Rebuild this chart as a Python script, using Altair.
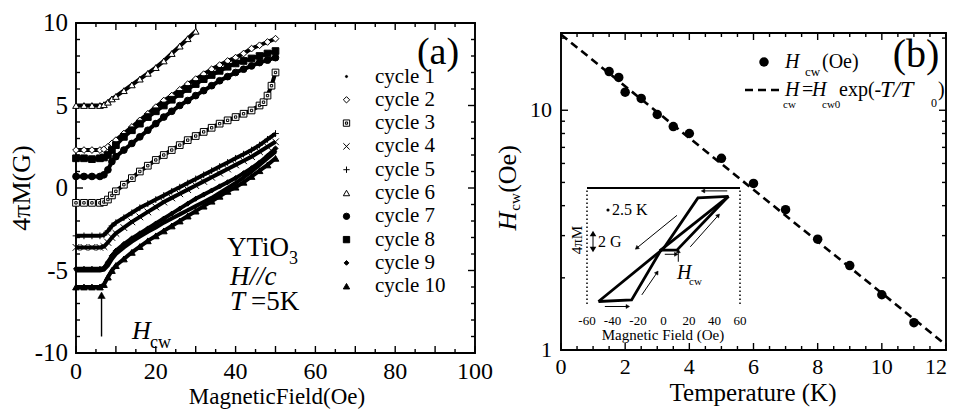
import math
import altair as alt
import pandas as pd

SERIF = "'Liberation Serif', 'Times New Roman', 'DejaVu Serif', serif"

# ---------------- data ----------------
CYCLES = ["cycle 1", "cycle 2", "cycle 3", "cycle 4", "cycle 5",
          "cycle 6", "cycle 7", "cycle 8", "cycle 9", "cycle 10"]

X_GRID = [0, 2, 4, 6, 7, 8, 9, 10, 12, 14, 16, 18, 20, 22, 24, 26, 28, 30,
          32, 34, 36, 38, 40, 42, 44, 46, 48, 50]
X_CYCLE3 = [0, 2, 4, 6, 7, 8, 9, 10, 12, 14, 16, 18, 20, 22, 24, 26, 28, 30,
            32, 34, 36, 38, 40, 42, 44, 46, 47, 48, 49, 50]
X_CYCLE6 = [0, 2, 4, 6, 7, 8, 9, 10, 12, 14, 16, 18, 20, 22, 24, 26, 28, 30]

M_CYCLE1 = [-5.0, -5.0, -5.0, -5.0, -4.95, -4.7, -4.3, -4.0, -3.6, -3.25, -2.95, -2.65, -2.4,
            -2.1, -1.85, -1.6, -1.35, -1.1, -0.85, -0.6, -0.3, 0.0, 0.3, 0.65, 1.0, 1.4, 1.8, 2.2]
M_CYCLE2 = [2.3, 2.3, 2.3, 2.3, 2.35, 2.5, 2.7, 2.9, 3.3, 3.7, 4.1, 4.5, 4.9,
            5.3, 5.6, 5.95, 6.3, 6.6, 6.9, 7.2, 7.45, 7.7, 7.9, 8.15, 8.45, 8.65, 8.85, 9.05]
M_CYCLE3 = [-0.9, -0.9, -0.9, -0.9, -0.85, -0.7, -0.45, -0.2, 0.2, 0.6, 1.0, 1.35, 1.7,
            2.0, 2.3, 2.6, 2.9, 3.15, 3.4, 3.65, 3.9, 4.1, 4.3, 4.5, 4.7, 5.0, 5.2, 5.6, 6.2, 7.0]
M_CYCLE4 = [-3.6, -3.6, -3.6, -3.6, -3.55, -3.3, -3.0, -2.75, -2.4, -2.05, -1.75, -1.45, -1.15,
            -0.85, -0.6, -0.35, -0.1, 0.15, 0.4, 0.65, 0.9, 1.15, 1.4, 1.65, 1.9, 2.2, 2.5, 2.8]
M_CYCLE5 = [-2.9, -2.9, -2.9, -2.9, -2.85, -2.6, -2.3, -2.1, -1.8, -1.5, -1.2, -0.95, -0.7,
            -0.45, -0.2, 0.05, 0.3, 0.55, 0.8, 1.05, 1.3, 1.55, 1.8, 2.05, 2.3, 2.6, 2.95, 3.3]
M_CYCLE6 = [5.0, 5.0, 5.0, 5.0, 5.05, 5.2, 5.4, 5.55, 5.9, 6.25, 6.6, 6.95, 7.3,
            7.7, 8.15, 8.6, 9.05, 9.5]
M_CYCLE7 = [0.7, 0.7, 0.7, 0.7, 0.8, 1.1, 1.6, 1.9, 2.3, 2.7, 3.1, 3.5, 3.9,
            4.3, 4.65, 5.0, 5.3, 5.6, 5.9, 6.2, 6.5, 6.75, 7.0, 7.2, 7.4, 7.6, 7.75, 7.9]
M_CYCLE8 = [1.8, 1.8, 1.75, 1.8, 1.85, 2.0, 2.3, 2.6, 3.1, 3.5, 3.9, 4.3, 4.65,
            5.0, 5.35, 5.7, 6.0, 6.3, 6.6, 6.85, 7.1, 7.35, 7.55, 7.7, 7.85, 8.0, 8.15, 8.3]
M_CYCLE9 = [-4.9, -4.9, -4.9, -4.9, -4.85, -4.5, -4.1, -3.8, -3.4, -3.05, -2.75, -2.45, -2.15,
            -1.85, -1.55, -1.25, -0.95, -0.65, -0.4, -0.15, 0.1, 0.35, 0.6, 0.9, 1.2, 1.55, 1.95, 2.4]
M_CYCLE10 = [-6.0, -6.0, -6.0, -6.0, -5.85, -5.4, -5.0, -4.7, -4.3, -3.9, -3.55, -3.2, -2.9,
             -2.6, -2.3, -2.0, -1.7, -1.4, -1.1, -0.8, -0.5, -0.2, 0.05, 0.35, 0.7, 1.05, 1.4, 1.8]

HCW_MARK_H = 6.4            # Oe, position of the H_cw arrow in (a)
HCW_MARK_M = [-9.0, -6.5]   # G, arrow from / to

T_POINTS = [1.5, 1.8, 2.0, 2.5, 3.0, 3.5, 4.0, 5.0, 6.0, 7.0, 8.0, 9.0, 10.0, 11.0]
HCW_POINTS = [14.5, 13.7, 11.9, 11.2, 9.6, 8.55, 8.0, 6.3, 4.95, 3.85, 2.9, 2.25, 1.7, 1.3]
FIT_T = [0, 12]
FIT_HCW = [20.7, 1.05]

INSET_DOWN_H = [51, 27, 0, -51]
INSET_DOWN_M = [6.0, 5.8, -0.3, -6.7]
INSET_UP_H = [-51, -25, -2, 10.5, 51]
INSET_UP_M = [-6.7, -6.5, -0.5, -0.5, 6.0]
INSET_MID_H = [-3, 51]
INSET_MID_M = [-0.6, 6.0]

A_XTICKS = [0, 20, 40, 60, 80, 100]
A_XLABELS = ["0", "20", "40", "60", "80", "100"]
A_YTICKS = [-10, -5, 0, 5, 10]
A_YLABELS = ["-10", "-5", "0", "5", "10"]
A_XMAJOR = [0, 10, 20, 30, 40, 50, 60, 70, 80, 90, 100]
A_XMINOR = [5, 15, 25, 35, 45, 55, 65, 75, 85, 95]
A_YMAJOR = [-10, -5, 0, 5, 10]
A_YMINOR = [-9, -8, -7, -6, -4, -3, -2, -1, 1, 2, 3, 4, 6, 7, 8, 9]

B_XTICKS = [0, 2, 4, 6, 8, 10]
B_XLABELS = ["0", "2", "4", "6", "8", "10"]
B_XLAST = [12]
B_XLAST_LABEL = ["12"]
B_YTICKS = [1, 10]
B_YLABELS = ["1", "10"]
B_XMAJOR = [0, 2, 4, 6, 8, 10, 12]
B_XMINOR = [0.5, 1, 1.5, 2.5, 3, 3.5, 4.5, 5, 5.5, 6.5, 7, 7.5, 8.5, 9, 9.5, 10.5, 11, 11.5]
B_YMAJOR = [1, 10]
B_YMINOR = [2, 3, 4, 5, 6, 7, 8, 9, 20]
B_YMAX = 21

I_XTICKS = [-60, -40, -20, 0, 20, 40, 60]
I_XLABELS = ["-60", "-40", "-20", "0", "20", "40", "60"]

# ---------------- layout (pixels inside the drawing) ----------------
W, H = 939, 402
A_L, A_R, A_T, A_B = 68, 467, 15, 345
B_L, B_R, B_T, B_B = 553, 938, 25, 342
I_L, I_R, I_T, I_B = 579, 732, 180, 296


def ext_x(d0, d1, p0, p1, log=False):
    f = math.log10 if log else (lambda v: v)
    g = (lambda v: 10 ** v) if log else (lambda v: v)
    a, b = f(d0), f(d1)
    k = (p1 - p0) / (b - a)
    return [g(a - p0 / k), g(b + (W - p1) / k)]


def ext_y(d0, d1, p0, p1, log=False):
    f = math.log10 if log else (lambda v: v)
    g = (lambda v: 10 ** v) if log else (lambda v: v)
    a, b = f(d0), f(d1)
    k = (p0 - p1) / (b - a)
    return [g(a - (H - p0) / k), g(b + p1 / k)]


XA = alt.Scale(domain=ext_x(0, 100, A_L, A_R), nice=False, zero=False)
YA = alt.Scale(domain=ext_y(-10, 10, A_B, A_T), nice=False, zero=False)
XB = alt.Scale(domain=ext_x(0, 12, B_L, B_R), nice=False, zero=False)
YB = alt.Scale(type="log", domain=ext_y(1, B_YMAX, B_B, B_T, log=True), nice=False)
XI = alt.Scale(domain=ext_x(-60, 60, I_L, I_R), nice=False, zero=False)
YI = alt.Scale(domain=ext_y(-7, 7, I_B, I_T), nice=False, zero=False)


def X(field, sc):
    return alt.X(f"{field}:Q", scale=sc, axis=None)


def Y(field, sc):
    return alt.Y(f"{field}:Q", scale=sc, axis=None)


def txt(s, x, y, size, align="left", style="normal", angle=0):
    kw = dict(font=SERIF, fontSize=size, align=align, baseline="middle",
              color="black", fontStyle=style)
    if angle:
        kw["angle"] = angle
    return alt.Chart(pd.DataFrame({"s": [s]})).mark_text(**kw).encode(
        text="s:N", x=alt.value(x), y=alt.value(y))


UP, DOWN, RIGHT, LEFT = "M0,0L0,-1", "M0,0L0,1", "M0,0L1,0", "M0,0L-1,0"


def tick_df(xmaj, xmin, ymaj, ymin, x0, x1, y0, y1):
    rows = []
    for vals, L in ((xmaj, 7), (xmin, 4)):
        for v in vals:
            rows.append(dict(x=v, y=y0, shp=UP, sz=4 * L * L))
            rows.append(dict(x=v, y=y1, shp=DOWN, sz=4 * L * L))
    for vals, L in ((ymaj, 7), (ymin, 4)):
        for v in vals:
            rows.append(dict(x=x0, y=v, shp=RIGHT, sz=4 * L * L))
            rows.append(dict(x=x1, y=v, shp=LEFT, sz=4 * L * L))
    return pd.DataFrame(rows)


def frame_and_ticks(xs, ys, x0, x1, y0, y1, ticks):
    frame = alt.Chart(pd.DataFrame({"x0": [x0], "x1": [x1], "y0": [y0], "y1": [y1]})).mark_rect(
        fill="transparent", stroke="black", strokeWidth=1.9).encode(
        x=X("x0", xs), x2="x1:Q", y=Y("y0", ys), y2="y1:Q")
    tk = alt.Chart(ticks).mark_point(stroke="black", strokeWidth=1.4, opacity=1).encode(
        x=X("x", xs), y=Y("y", ys),
        shape=alt.Shape("shp:N", scale=None, legend=None),
        size=alt.Size("sz:Q", scale=None, legend=None))
    return [frame, tk]


# ---------------- panel (a) ----------------
SERIES = [("cycle 1", X_GRID, M_CYCLE1), ("cycle 2", X_GRID, M_CYCLE2),
          ("cycle 3", X_CYCLE3, M_CYCLE3), ("cycle 4", X_GRID, M_CYCLE4),
          ("cycle 5", X_GRID, M_CYCLE5), ("cycle 6", X_CYCLE6, M_CYCLE6),
          ("cycle 7", X_GRID, M_CYCLE7), ("cycle 8", X_GRID, M_CYCLE8),
          ("cycle 9", X_GRID, M_CYCLE9), ("cycle 10", X_GRID, M_CYCLE10)]
df_a = pd.DataFrame([{"cycle": n, "h": h, "m": m}
                     for n, xs, ms in SERIES for h, m in zip(xs, ms)])

SHAPES = ["M-0.35,0A0.35,0.35,0,1,1,0.35,0A0.35,0.35,0,1,1,-0.35,0Z",
          "diamond",
          "M-1,-1H1V1H-1ZM-0.35,-0.35H0.35V0.35H-0.35Z",
          "M-1,-1L1,1M-1,1L1,-1",
          "M-1,0L1,0M0,-1L0,1",
          "triangle-up",
          "circle",
          "square",
          "M0,-0.75L0.75,0L0,0.75L-0.75,0Z",
          "triangle-up"]
FILLS = ["black", "white", "white", "white", "white", "white",
         "black", "black", "black", "black"]
STROKES = ["black"] * 10

LEG = alt.Legend(title=None, orient="none", legendX=328, legendY=58,
                 labelFont=SERIF, labelFontSize=21, labelColor="black",
                 symbolStrokeColor="black", symbolStrokeWidth=1, symbolSize=40,
                 rowPadding=1.3, labelOffset=18, padding=0)

lines_a = alt.Chart(df_a).mark_line(color="black", strokeWidth=4).encode(
    x=X("h", XA), y=Y("m", YA), detail="cycle:N")
points_a = alt.Chart(df_a).mark_point(strokeWidth=1, opacity=1, size=45).encode(
    x=X("h", XA), y=Y("m", YA),
    shape=alt.Shape("cycle:N", scale=alt.Scale(domain=CYCLES, range=SHAPES), legend=LEG),
    fill=alt.Fill("cycle:N", scale=alt.Scale(domain=CYCLES, range=FILLS), legend=LEG),
    stroke=alt.Stroke("cycle:N", scale=alt.Scale(domain=CYCLES, range=STROKES), legend=LEG))

df_arrow_a = pd.DataFrame({"h": [HCW_MARK_H], "m0": [HCW_MARK_M[0]], "m1": [HCW_MARK_M[1]]})
arrow_a = alt.Chart(df_arrow_a).mark_rule(color="black", strokeWidth=1.4).encode(
    x=X("h", XA), y=Y("m0", YA), y2="m1:Q")
arrow_a_head = alt.Chart(df_arrow_a).mark_point(shape="triangle-up", fill="black", stroke="black",
                                                strokeWidth=0.5, size=55, opacity=1).encode(
    x=X("h", XA), y=Y("m1", YA))

xlab_a = alt.Chart(pd.DataFrame({"v": A_XTICKS, "s": A_XLABELS, "e": -10})).mark_text(
    font=SERIF, fontSize=24, dy=19, baseline="middle", color="black").encode(
    x=X("v", XA), y=Y("e", YA), text="s:N")
ylab_a = alt.Chart(pd.DataFrame({"v": A_YTICKS, "s": A_YLABELS, "e": 0})).mark_text(
    font=SERIF, fontSize=25, dx=-8, align="right", baseline="middle", color="black").encode(
    x=X("e", XA), y=Y("v", YA), text="s:N")

ga_axes = alt.layer(*frame_and_ticks(XA, YA, 0, 100, -10, 10,
                                     tick_df(A_XMAJOR, A_XMINOR, A_YMAJOR, A_YMINOR, 0, 100, -10, 10)),
                    xlab_a, ylab_a)
ga_data = alt.layer(lines_a, points_a, arrow_a, arrow_a_head)

# ---------------- panel (b) ----------------
df_b = pd.DataFrame({"t": T_POINTS, "hc": HCW_POINTS})
df_fit = pd.DataFrame({"t": FIT_T, "hc": FIT_HCW})
fit_b = alt.Chart(df_fit).mark_line(color="black", strokeWidth=2.6, strokeDash=[8, 5]).encode(
    x=X("t", XB), y=Y("hc", YB))
pts_b = alt.Chart(df_b).mark_circle(color="black", size=90, opacity=1).encode(
    x=X("t", XB), y=Y("hc", YB))

xlab_b = alt.Chart(pd.DataFrame({"v": B_XTICKS, "s": B_XLABELS, "e": 1})).mark_text(
    font=SERIF, fontSize=22, dy=16.5, baseline="middle", color="black").encode(
    x=X("v", XB), y=Y("e", YB), text="s:N")
xlab_b_last = alt.Chart(pd.DataFrame({"v": B_XLAST, "s": B_XLAST_LABEL, "e": 1})).mark_text(
    font=SERIF, fontSize=22, dy=16.5, dx=1, align="right", baseline="middle", color="black").encode(
    x=X("v", XB), y=Y("e", YB), text="s:N")
ylab_b = alt.Chart(pd.DataFrame({"v": B_YTICKS, "s": B_YLABELS, "e": 0})).mark_text(
    font=SERIF, fontSize=22, dx=-9, align="right", baseline="middle", color="black").encode(
    x=X("e", XB), y=Y("v", YB), text="s:N")

gb_axes = alt.layer(*frame_and_ticks(XB, YB, 0, 12, 1, B_YMAX,
                                     tick_df(B_XMAJOR, B_XMINOR, B_YMAJOR, B_YMINOR, 0, 12, 1, B_YMAX)),
                    xlab_b, xlab_b_last, ylab_b)
gb_data = alt.layer(fit_b, pts_b)

# ---------------- inset ----------------
loop_rows = []
for name, hs, ms in (("down", INSET_DOWN_H, INSET_DOWN_M), ("up", INSET_UP_H, INSET_UP_M),
                     ("mid", INSET_MID_H, INSET_MID_M)):
    for i, (h, m) in enumerate(zip(hs, ms)):
        loop_rows.append({"b": name, "i": i, "h": h, "m": m})
df_loop = pd.DataFrame(loop_rows)
inset_loop = alt.Chart(df_loop).mark_line(color="black", strokeWidth=2.8).encode(
    x=X("h", XI), y=Y("m", YI), detail="b:N", order="i:Q")

inset_top = alt.Chart(pd.DataFrame({"x0": [-60], "x1": [60], "y": [7]})).mark_rule(
    color="black", strokeWidth=1.8).encode(x=X("x0", XI), x2="x1:Q", y=Y("y", YI))
inset_sides = alt.Chart(pd.DataFrame({"x": [-60, 60], "y0": [-7, -7], "y1": [7, 7]})).mark_rule(
    color="black", strokeWidth=1.5, strokeDash=[1.5, 2.5]).encode(x=X("x", XI), y=Y("y0", YI), y2="y1:Q")

df_arr = pd.DataFrame({
    "x1": [50, -46, 21, 10.6, -17, 1, 11.6],
    "y1": [6.65, -7.3, -0.1, 3.7, -5.9, -1.0, -1.9],
    "x2": [31, -28, 43, -21, -5, 10, 11.6],
    "y2": [6.65, -7.3, 3.7, -0.25, -3.2, -1.0, -0.6],
    "ang": [270, 90, 42, 231, 34, 90, 0]})
inset_arrows = alt.Chart(df_arr).mark_rule(color="black", strokeWidth=1).encode(
    x=X("x1", XI), y=Y("y1", YI), x2="x2:Q", y2="y2:Q")
inset_heads = alt.Chart(df_arr).mark_point(shape="triangle-up", fill="black", stroke="black",
                                           strokeWidth=0.5, size=16, opacity=1).encode(
    x=X("x2", XI), y=Y("y2", YI), angle=alt.Angle("ang:Q", scale=None))
inset_xlab = alt.Chart(pd.DataFrame({"v": I_XTICKS, "s": I_XLABELS, "e": -7})).mark_text(
    font=SERIF, fontSize=13, dy=17, baseline="middle", color="black").encode(
    x=X("v", XI), y=Y("e", YI), text="s:N")

g_inset = alt.layer(inset_top, inset_sides, inset_loop, inset_arrows, inset_heads, inset_xlab)

# ---------------- annotations (pixel placed) ----------------
one = pd.DataFrame({"a": [0]})
annots = [
    # panel (a)
    txt("(a)", 430, 45, 38, align="center"),
    txt("YTiO", 219, 240, 27),
    txt("3", 281, 251, 18),
    txt("H//c", 222, 269, 27, style="italic"),
    txt("T", 222, 294, 27, style="italic"),
    txt("=5K", 243, 294, 27),
    txt("H", 124, 323, 26, style="italic"),
    txt("cw", 142, 335, 18),
    txt("MagneticField(Oe)", 269, 389, 23, align="center"),
    txt("4\u03c0M(G)", 14, 180, 26, align="center", angle=270),
    # panel (b)
    txt("(b)", 908, 47, 40, align="center"),
    alt.Chart(one).mark_circle(color="black", size=90, opacity=1).encode(
        x=alt.value(756), y=alt.value(54)),
    txt("H", 777, 54, 20, style="italic"),
    txt("cw", 797, 64, 13),
    txt("(Oe)", 814, 54, 20),
    alt.Chart(one).mark_rule(color="black", strokeWidth=2.6, strokeDash=[8, 5]).encode(
        x=alt.value(737), x2=alt.value(774), y=alt.value(82)),
    txt("H", 777, 82, 20, style="italic"),
    txt("cw", 775, 97, 11),
    txt("=", 794, 82, 20),
    txt("H", 804, 82, 20, style="italic"),
    txt("cw0", 814, 97, 11),
    txt("exp(-", 831, 82, 20),
    txt("T/T", 872, 82, 24, style="italic"),
    txt("0", 923, 95, 12),
    txt(")", 930, 82, 20),
    txt("H", 500, 213, 26, align="center", style="italic", angle=270),
    txt("cw", 507, 194, 15, align="center", angle=270),
    txt("(Oe)", 500, 161, 26, align="center", angle=270),
    txt("Temperature (K)", 745, 385, 25, align="center"),
    # inset
    alt.Chart(one).mark_circle(color="black", size=10, opacity=1).encode(
        x=alt.value(600), y=alt.value(202)),
    txt("2.5 K", 604, 202, 16),
    txt("4\u03c0M", 569, 232, 15, align="center", angle=270),
    alt.Chart(one).mark_rule(color="black", strokeWidth=1).encode(
        x=alt.value(585), y=alt.value(225), y2=alt.value(242)),
    alt.Chart(one).mark_point(shape="triangle-up", fill="black", stroke="black", size=10, opacity=1).encode(
        x=alt.value(585), y=alt.value(226)),
    alt.Chart(one).mark_point(shape="triangle-down", fill="black", stroke="black", size=10, opacity=1).encode(
        x=alt.value(585), y=alt.value(241)),
    txt("2 G", 590, 234, 16),
    txt("H", 669, 265, 20, style="italic"),
    txt("cw", 681, 274, 11),
    txt("Magnetic Field (Oe)", 655, 327, 15, align="center"),
]

chart = alt.layer(ga_axes, ga_data, gb_axes, gb_data, g_inset, *annots).resolve_scale(
    x="independent", y="independent", shape="independent", fill="independent",
    size="independent", stroke="independent"
).properties(
    width=W, height=H, autosize=alt.AutoSizeParams(type="none"), padding=0,
    background="white"
).configure_view(strokeWidth=0)

chart.save("out.html", embed_options={"renderer": "svg", "actions": False})
